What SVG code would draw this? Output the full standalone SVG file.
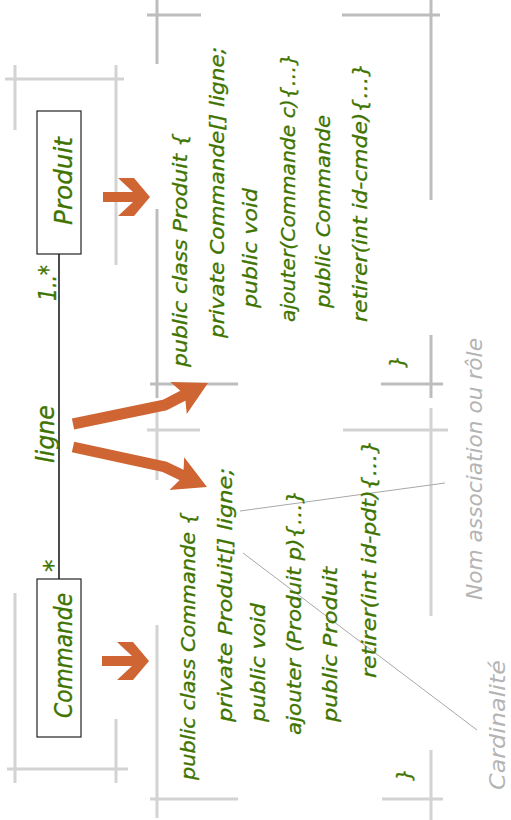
<svg xmlns="http://www.w3.org/2000/svg" width="511" height="820" viewBox="0 0 511 820">
<style>
.g1{stroke:#d3d3d3;stroke-width:3;fill:none}
.g2{stroke:#bdbdbd;stroke-width:3;fill:none}
.code{font-family:"DejaVu Sans","Liberation Sans",sans-serif;font-style:italic;font-size:20px;fill:#407400;stroke:#407400;stroke-width:0.3}
.uml{font-family:"DejaVu Sans","Liberation Sans",sans-serif;font-style:italic;font-size:25px;fill:#407400;stroke:#407400;stroke-width:0.3}
.note{font-family:"DejaVu Sans","Liberation Sans",sans-serif;font-style:italic;font-size:21px;fill:#b4b4b4}
.box{fill:#fff;stroke:#222;stroke-width:1.2}
.arr{fill:#cf6532}
.shaft{fill:none;stroke:#cf6532;stroke-width:11;stroke-linejoin:miter}
.lead{stroke:#a8a8a8;stroke-width:1;fill:none}
</style>
<defs>
<polygon id="rarrow" points="102,656 132,656 117,642 133,642 149,661 133,680 117,680 132,666 102,666"/>
<polygon id="head" points="0,0 -33,-18 -26,0 -33,18"/>
</defs>
<rect width="511" height="820" fill="#fff"/>

<g id="brackets">
<path class="g1" d="M5,79H124M15,65V130M116,65V265"/>
<path class="g1" d="M15,593V783M7,769H128M116,719V783"/>
<path class="g2" d="M147,15H201M157,0V64M342,15H440M431,0V200M157,209V398M150,384H238M431,335V398M381,384H443"/>
<path class="g1" d="M147,430H200M157,412V480M343,430H448M431,408V616M157,625V818M150,799H238M431,750V820M382,799H443"/>
</g>

<g id="connectors">
<path d="M59,254V579" stroke="#111" stroke-width="1.5" fill="none"/>
<text class="uml" font-size="24" transform="translate(61,572) rotate(-90)">*</text>
<text class="uml" font-size="22" transform="translate(56,301) rotate(-90)" textLength="36" lengthAdjust="spacingAndGlyphs">1..*</text>
<text class="uml" font-size="24" transform="translate(54,463) rotate(-90)" textLength="58" lengthAdjust="spacingAndGlyphs">ligne</text>
<use href="#rarrow" class="arr"/>
<use href="#rarrow" class="arr" transform="translate(1,-464)"/>
<polyline class="shaft" points="73,424 165,405 190,392"/>
<use href="#head" class="arr" transform="translate(208,383) rotate(-27)"/>
<polyline class="shaft" points="73,447 165,467 190,479"/>
<use href="#head" class="arr" transform="translate(207,487) rotate(24)"/>
<path class="lead" d="M240,511L445,483M243,553L477,730"/>
</g>

<g id="Produit">
<rect class="box" x="37" y="111" width="44" height="143"/>
<text class="uml" transform="translate(72,225) rotate(-90)" textLength="88" lengthAdjust="spacingAndGlyphs">Produit</text>
</g>

<g id="Commande">
<rect class="box" x="37" y="579" width="44" height="158"/>
<text class="uml" transform="translate(72,718) rotate(-90)" textLength="125" lengthAdjust="spacingAndGlyphs">Commande</text>
</g>

<g id="code-produit">
<text class="code" transform="translate(187,367) rotate(-90)" textLength="234" lengthAdjust="spacingAndGlyphs">public class Produit {</text>
<text class="code" transform="translate(224,338) rotate(-90)" textLength="291" lengthAdjust="spacingAndGlyphs">private Commande[] ligne;</text>
<text class="code" transform="translate(257,308) rotate(-90)" textLength="120" lengthAdjust="spacingAndGlyphs">public void</text>
<text class="code" transform="translate(295,322) rotate(-90)" textLength="269" lengthAdjust="spacingAndGlyphs">ajouter(Commande c){…}</text>
<text class="code" transform="translate(330,308) rotate(-90)" textLength="193" lengthAdjust="spacingAndGlyphs">public Commande</text>
<text class="code" transform="translate(367,322) rotate(-90)" textLength="259" lengthAdjust="spacingAndGlyphs">retirer(int id-cmde){…}</text>
<text class="code" font-size="24" transform="translate(404,368) rotate(-90)">}</text>
</g>

<g id="code-commande">
<text class="code" transform="translate(195,780) rotate(-90)" textLength="268" lengthAdjust="spacingAndGlyphs">public class Commande {</text>
<text class="code" transform="translate(232,722) rotate(-90)" textLength="254" lengthAdjust="spacingAndGlyphs">private Produit[] ligne;</text>
<text class="code" transform="translate(265,722) rotate(-90)" textLength="119" lengthAdjust="spacingAndGlyphs">public void</text>
<text class="code" transform="translate(301,735) rotate(-90)" textLength="245" lengthAdjust="spacingAndGlyphs">ajouter (Produit p){…}</text>
<text class="code" transform="translate(337,722) rotate(-90)" textLength="155" lengthAdjust="spacingAndGlyphs">public Produit</text>
<text class="code" transform="translate(376,678) rotate(-90)" textLength="238" lengthAdjust="spacingAndGlyphs">retirer(int id-pdt){…}</text>
<text class="code" font-size="24" transform="translate(411,781) rotate(-90)">}</text>
</g>

<g id="notes">
<text class="note" transform="translate(482,600) rotate(-90)" textLength="262" lengthAdjust="spacingAndGlyphs">Nom association ou rôle</text>
<text class="note" font-size="20" transform="translate(505,790) rotate(-90)" textLength="130" lengthAdjust="spacingAndGlyphs">Cardinalité</text>
</g>
</svg>
